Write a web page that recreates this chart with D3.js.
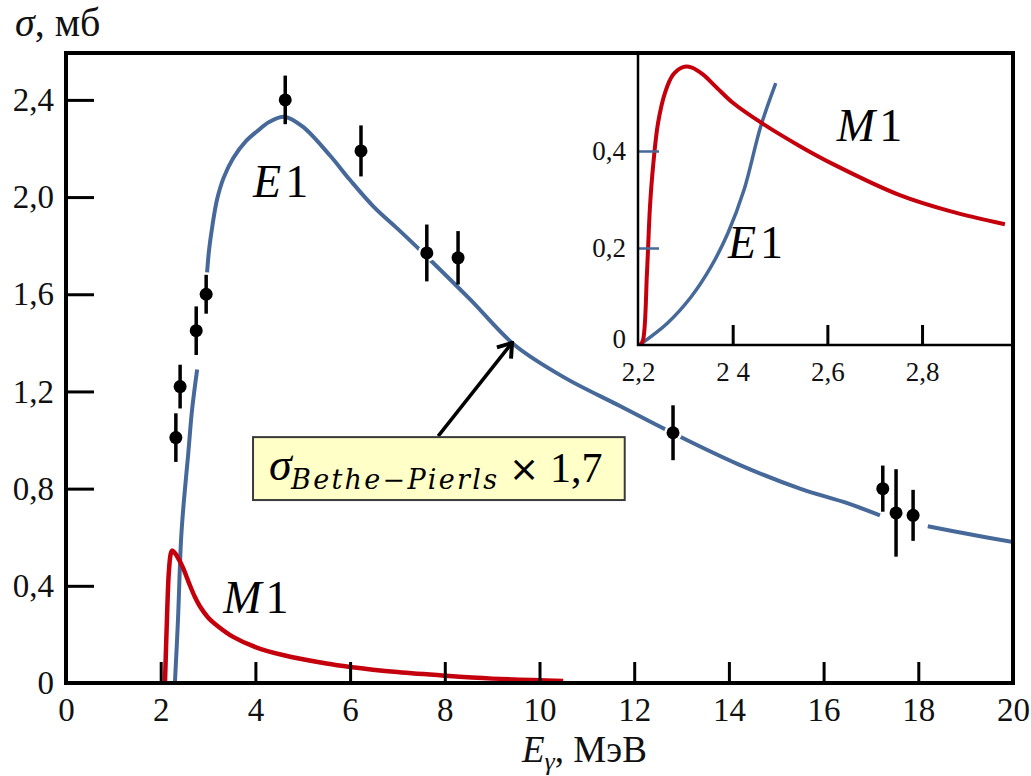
<!DOCTYPE html>
<html>
<head>
<meta charset="utf-8">
<script src="https://cdn.jsdelivr.net/npm/d3@7"></script>
<style>
  body { margin: 0; background: #fff; }
  svg { display: block; }
</style>
</head>
<body>
<script>
// axis ticks
const xTicks = [0, 2, 4, 6, 8, 10, 12, 14, 16, 18, 20]
const yTicks = [0, 0.4, 0.8, 1.2, 1.6, 2.0, 2.4]
const yTickLabels = ['0', '0,4', '0,8', '1,2', '1,6', '2,0', '2,4']
const insetXTicks = [2.2, 2.4, 2.6, 2.8]
const insetXLabels = ['2,2', '2 4', '2,6', '2,8']
const insetYTicks = [0, 0.2, 0.4]
const insetYLabels = ['0', '0,2', '0,4']

// measured points: E (MeV), sigma (mb), error
const pointsE = [2.32, 2.41, 2.75, 2.96, 4.63, 6.23, 7.62, 8.28, 12.82, 17.25, 17.53, 17.89]
const pointsSigma = [1.01, 1.22, 1.45, 1.60, 2.40, 2.19, 1.77, 1.75, 1.03, 0.80, 0.70, 0.69]
const pointsErr = [0.10, 0.09, 0.10, 0.08, 0.10, 0.105, 0.117, 0.11, 0.113, 0.095, 0.18, 0.105]

// curves [E, sigma], null = break in the line
const e1Main = [
    [2.30, 0], [2.365, 0.26], [2.43, 0.59], [2.49, 0.75], [2.58, 0.94], [2.66, 1.12], [2.77, 1.29],
    null,
    [2.98, 1.69], [3.02, 1.78], [3.09, 1.88], [3.19, 1.99], [3.33, 2.08], [3.53, 2.16], [3.8, 2.23],
    [4.03, 2.27], [4.3, 2.31], [4.62, 2.33],
    [5.0, 2.29], [5.58, 2.17], [6.0, 2.07], [6.5, 1.96], [7.0, 1.87], [7.54, 1.77], [8.53, 1.58],
    [9.48, 1.39], [10.5, 1.26], [11.7, 1.14], [12.8, 1.03], [14.2, 0.9], [15.5, 0.8], [16.5, 0.74],
    [17.19, 0.69],
    null,
    [18.2, 0.645], [19.0, 0.615], [20, 0.58],
]
const m1Main = [
    [2.09, 0], [2.13, 0.25], [2.17, 0.45], [2.21, 0.53], [2.24, 0.545], [2.3, 0.535], [2.38, 0.51],
    [2.47, 0.475], [2.6, 0.41], [2.72, 0.355], [2.83, 0.315], [3.0, 0.27], [3.2, 0.235], [3.53, 0.19],
    [4.0, 0.148], [4.58, 0.115], [5.5, 0.08], [6.0, 0.066], [7.0, 0.045], [8.0, 0.03], [9.0, 0.018],
    [10.5, 0.008],
]
const m1Inset = [
    [2.205, 0], [2.2106, 0.01], [2.219, 0.15], [2.2253, 0.285], [2.2317, 0.367], [2.2422, 0.457],
    [2.257, 0.52], [2.274, 0.557], [2.295, 0.573], [2.314, 0.572], [2.337, 0.558], [2.367, 0.53],
    [2.401, 0.499], [2.464, 0.456], [2.542, 0.41], [2.612, 0.373], [2.753, 0.309], [2.859, 0.276],
    [2.975, 0.249],
]
const e1Inset = [
    [2.203, 0], [2.262, 0.045], [2.312, 0.099], [2.354, 0.161], [2.39, 0.231], [2.424, 0.32],
    [2.459, 0.45], [2.491, 0.54],
]

const width = 1031
const height = 776
const blue = '#46699a'
const red = '#c4000c'
const serif = '"Liberation Serif", "Times New Roman", serif'

const x = d3.scaleLinear().domain([0, 20]).range([66, 1013])
const y = d3.scaleLinear().domain([0, 2.593]).range([683, 53])
const ix = d3.scaleLinear().domain([2.2, 2.99]).range([638, 1012])
const iy = d3.scaleLinear().domain([0, 0.6]).range([345, 54])

const svg = d3.select('body').append('svg')
    .attr('width', width)
    .attr('height', height)

const defs = svg.append('defs')
defs.append('clipPath').attr('id', 'clip-main')
    .append('rect')
    .attr('x', x(0)).attr('y', y.range()[1])
    .attr('width', x(20) - x(0)).attr('height', y(0) - y.range()[1])
defs.append('clipPath').attr('id', 'clip-inset')
    .append('rect')
    .attr('x', ix(2.2)).attr('y', iy.range()[1])
    .attr('width', ix.range()[1] - ix(2.2)).attr('height', iy(0) - iy.range()[1])
defs.append('marker')
    .attr('id', 'arrow')
    .attr('markerUnits', 'userSpaceOnUse')
    .attr('viewBox', '-16 -11 18 22')
    .attr('markerWidth', 18).attr('markerHeight', 22)
    .attr('refX', 0).attr('refY', 0)
    .attr('orient', 'auto')
    .append('path')
    .attr('d', 'M-13,-9 L0,0 L-13,9')
    .attr('fill', 'none')
    .attr('stroke', '#000')
    .attr('stroke-width', 4)

const line = (sx, sy) => d3.line()
    .defined((d) => d !== null)
    .x((d) => sx(d[0]))
    .y((d) => sy(d[1]))
    .curve(d3.curveCatmullRom.alpha(0.5))

// Main curves
const main = svg.append('g').attr('clip-path', 'url(#clip-main)')
main.append('path').datum(e1Main)
    .attr('d', line(x, y))
    .attr('fill', 'none').attr('stroke', blue).attr('stroke-width', 4)
main.append('path').datum(m1Main)
    .attr('d', line(x, y))
    .attr('fill', 'none').attr('stroke', red).attr('stroke-width', 4.5)

// Data points
const points = pointsE.map((e, i) => ({ e, s: pointsSigma[i], err: pointsErr[i] }))
const pts = svg.append('g')
pts.selectAll('.halo').data(points).enter().append('circle')
    .attr('cx', (d) => x(d.e)).attr('cy', (d) => y(d.s))
    .attr('r', 9).attr('fill', '#fff')
pts.selectAll('.err').data(points).enter().append('line')
    .attr('x1', (d) => x(d.e)).attr('x2', (d) => x(d.e))
    .attr('y1', (d) => y(d.s + d.err)).attr('y2', (d) => y(d.s - d.err))
    .attr('stroke', '#000').attr('stroke-width', 3.5)
pts.selectAll('.dot').data(points).enter().append('circle')
    .attr('cx', (d) => x(d.e)).attr('cy', (d) => y(d.s))
    .attr('r', 6.5).attr('fill', '#000')

// Main axes
const xAxis = svg.append('g')
    .attr('transform', `translate(0,${y(0)})`)
    .call(d3.axisBottom(x).tickValues(xTicks).tickSize(-21).tickPadding(15).tickFormat(d3.format('d')))
const yAxis = svg.append('g')
    .attr('transform', `translate(${x(0)},0)`)
    .call(d3.axisLeft(y).tickValues(yTicks).tickSize(-28).tickPadding(12)
        .tickFormat((d, i) => yTickLabels[i]))
for (const ax of [xAxis, yAxis]) {
    ax.select('.domain').remove()
    ax.attr('font-family', serif).attr('font-size', 33)
    ax.selectAll('.tick line').attr('stroke', '#000').attr('stroke-width', 3)
    ax.selectAll('.tick text').attr('fill', '#111')
}
xAxis.selectAll('.tick').filter((d) => d === 0 || d === 20).select('line').remove()
yAxis.selectAll('.tick').filter((d) => d === 0).select('line').remove()

// Curve labels
const label = (g, px, py, letter) => {
    const t = g.append('text')
        .attr('x', px).attr('y', py)
        .attr('font-family', serif).attr('font-size', 46).attr('fill', '#000')
    t.append('tspan').attr('font-style', 'italic').text(letter)
    t.append('tspan').attr('dx', 4).text('1')
}
label(svg, x(3.95), y(2.0), 'E')
label(svg, x(3.32), y(0.29), 'M')

// Annotation box and arrow
const box = { e0: 3.95, e1: 11.8, s0: 1.012, s1: 0.753 }
svg.append('line')
    .attr('x1', x(7.86)).attr('y1', y(1.016))
    .attr('x2', x(9.42)).attr('y2', y(1.40))
    .attr('stroke', '#000').attr('stroke-width', 3.5)
    .attr('marker-end', 'url(#arrow)')
svg.append('rect')
    .attr('x', x(box.e0)).attr('y', y(box.s0))
    .attr('width', x(box.e1) - x(box.e0)).attr('height', y(box.s1) - y(box.s0))
    .attr('fill', '#ffffc8').attr('stroke', '#3a3a3a').attr('stroke-width', 2)
const bx = x(box.e0)
const by = y(box.s0)
svg.append('text')
    .attr('x', bx + 16).attr('y', by + 43)
    .attr('font-family', serif).attr('font-size', 46).attr('font-style', 'italic')
    .text('σ')
svg.append('text')
    .attr('x', bx + 38).attr('y', by + 52)
    .attr('font-family', '"DejaVu Serif", serif').attr('font-size', 27).attr('font-style', 'italic')
    .attr('textLength', 206).attr('lengthAdjust', 'spacing')
    .text('Bethe−Pierls')
svg.append('text')
    .attr('x', bx + 256).attr('y', by + 44)
    .attr('font-family', '"DejaVu Sans", sans-serif').attr('font-size', 36)
    .text('×')
svg.append('text')
    .attr('x', bx + 297).attr('y', by + 45)
    .attr('font-family', serif).attr('font-size', 42)
    .text('1,7')

// Axis titles
const yTitle = svg.append('text')
    .attr('x', 15).attr('y', 36)
    .attr('font-family', serif).attr('font-size', 40).attr('fill', '#111')
yTitle.append('tspan').attr('font-style', 'italic').text('σ')
yTitle.append('tspan').text(', мб')

const xTitle = svg.append('text')
    .attr('x', 522).attr('y', 762)
    .attr('font-family', serif).attr('font-size', 37).attr('fill', '#111')
xTitle.append('tspan').attr('font-style', 'italic').text('E')
xTitle.append('tspan').attr('font-style', 'italic').attr('font-size', 26).attr('dy', 8).text('γ')
xTitle.append('tspan').attr('dy', -8).text(', МэВ')

// Inset
const inset = svg.append('g')
inset.append('rect')
    .attr('x', ix(2.2)).attr('y', iy.range()[1])
    .attr('width', ix.range()[1] - ix(2.2)).attr('height', iy(0) - iy.range()[1])
    .attr('fill', '#fff')
const insetCurves = inset.append('g').attr('clip-path', 'url(#clip-inset)')
insetCurves.append('path').datum(e1Inset)
    .attr('d', line(ix, iy))
    .attr('fill', 'none').attr('stroke', blue).attr('stroke-width', 3.5)
insetCurves.append('path').datum(m1Inset)
    .attr('d', line(ix, iy))
    .attr('fill', 'none').attr('stroke', red).attr('stroke-width', 4)

const ixAxis = inset.append('g')
    .attr('transform', `translate(0,${iy(0)})`)
    .call(d3.axisBottom(ix).tickValues(insetXTicks).tickSize(-20).tickPadding(17)
        .tickFormat((d, i) => insetXLabels[i]))
const iyAxis = inset.append('g')
    .attr('transform', `translate(${ix(2.2)},0)`)
    .call(d3.axisLeft(iy).tickValues(insetYTicks).tickSize(-21).tickPadding(12)
        .tickFormat((d, i) => insetYLabels[i]))
for (const ax of [ixAxis, iyAxis]) {
    ax.select('.domain').remove()
    ax.attr('font-family', serif).attr('font-size', 27)
    ax.selectAll('.tick text').attr('fill', '#111')
}
ixAxis.selectAll('.tick line').attr('stroke', '#000').attr('stroke-width', 3)
iyAxis.selectAll('.tick line').attr('stroke', blue).attr('stroke-width', 2.5)
ixAxis.selectAll('.tick').filter((d) => d === 2.2).select('line').remove()
iyAxis.selectAll('.tick').filter((d) => d === 0).select('line').remove()
iyAxis.selectAll('.tick').filter((d) => d === 0).select('text').attr('dy', '0.1em')

inset.append('path')
    .attr('d', `M${ix(2.2)},${iy.range()[1]} V${iy(0)} H${ix.range()[1]}`)
    .attr('fill', 'none').attr('stroke', '#000').attr('stroke-width', 2.5)
label(inset, ix(2.62), iy(0.42), 'M')
label(inset, ix(2.39), iy(0.18), 'E')

// Main frame
svg.append('rect')
    .attr('x', x(0)).attr('y', y.range()[1])
    .attr('width', x(20) - x(0)).attr('height', y(0) - y.range()[1])
    .attr('fill', 'none').attr('stroke', '#000').attr('stroke-width', 4)
</script>
</body>
</html>
